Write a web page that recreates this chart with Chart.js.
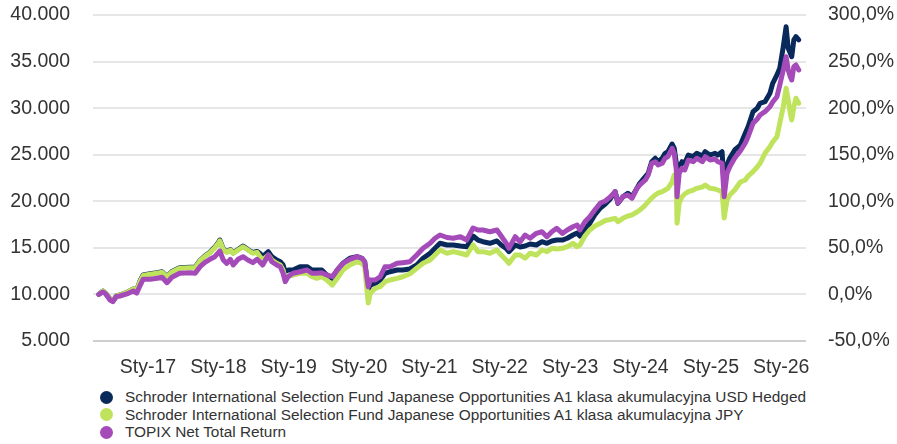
<!DOCTYPE html>
<html>
<head>
<meta charset="utf-8">
<script src="https://cdn.jsdelivr.net/npm/chart.js@4.4.1/dist/chart.umd.min.js"></script>
<style>
  html, body { margin: 0; padding: 0; background: #ffffff; }
  #wrap { position: relative; width: 897px; height: 444px; overflow: hidden; }
  #c { position: absolute; left: 0; top: 0; }
  .leg { position: absolute; left: 0; height: 17.5px; line-height: 17.5px; white-space: nowrap;
         font-family: "Liberation Sans", Arial, sans-serif; font-size: 15.4px; color: #333333; }
  .leg .dot { position: absolute; left: 100px; top: 2.5px; width: 13px; height: 13px; border-radius: 50%; }
  .leg .txt { position: absolute; left: 125px; top: 0; }
</style>
</head>
<body>
<div id="wrap">
  <canvas id="c" width="897" height="382"></canvas>
  <div id="legend"></div>
</div>
<script>
// ---- data (decimal years) ----
const dates = [
2016.30,2016.36,2016.40,2016.46,2016.50,2016.55,2016.60,2016.70,2016.79,2016.84,2016.89,2016.93,
2017.03,2017.13,2017.20,2017.27,2017.34,2017.45,2017.60,2017.67,2017.74,2017.81,2017.88,2017.95,
2018.00,2018.02,2018.07,2018.12,2018.17,2018.21,2018.28,2018.35,2018.42,2018.49,2018.55,2018.59,
2018.63,2018.71,2018.76,2018.83,2018.88,2018.92,2018.95,2018.99,2019.06,2019.16,2019.26,2019.33,
2019.40,2019.47,2019.54,2019.62,2019.69,2019.77,2019.87,2019.97,2020.04,2020.08,2020.13,2020.16,
2020.23,2020.30,2020.37,2020.44,2020.54,2020.62,2020.72,2020.82,2020.91,2021.01,2021.08,2021.15,
2021.25,2021.34,2021.44,2021.53,2021.62,2021.69,2021.76,2021.86,2021.96,2022.02,2022.09,2022.13,
2022.22,2022.29,2022.36,2022.43,2022.52,2022.60,2022.67,2022.74,2022.81,2022.89,2022.96,2023.04,
2023.10,2023.14,2023.21,2023.28,2023.35,2023.43,2023.50,2023.57,2023.64,2023.68,2023.75,2023.82,
2023.88,2023.95,2023.99,2024.07,2024.11,2024.16,2024.21,2024.25,2024.31,2024.35,2024.39,2024.45,
2024.48,2024.51,2024.52,2024.55,2024.59,2024.63,2024.68,2024.75,2024.80,2024.88,2024.92,2024.99,
2025.06,2025.10,2025.16,2025.19,2025.23,2025.27,2025.34,2025.42,2025.49,2025.53,2025.60,2025.66,
2025.70,2025.77,2025.84,2025.88,2025.94,2025.98,2026.03,2026.07,2026.10,2026.13,2026.15,2026.18,
2026.21,2026.25
];

const usdHedged = [
10000,10370,10100,9510,9290,9830,9940,10210,10580,10480,11500,12090,
12210,12320,12430,11930,12460,12860,12920,12920,13670,14150,14530,15090,
15580,15840,14880,14580,14820,14470,14820,15200,14820,14500,14610,14420,
14050,14590,14050,13700,13510,13160,12440,12620,12620,12980,12980,12620,
12620,12620,12090,11730,12620,13340,13880,14050,13880,13510,10480,11010,
11190,11550,12270,12440,12620,12620,12730,13160,13880,14420,14950,15490,
15310,15310,15200,15120,16270,15840,15660,15490,15740,15310,14950,14590,
15310,15090,15200,15410,15310,15660,15490,15740,15840,15840,16030,16380,
16600,16270,16920,17640,18530,19280,19710,20250,21030,19780,20490,20860,
20490,21390,21930,22640,23000,24250,24620,24250,24620,25150,25320,26150,
25690,24080,21570,23540,24250,24080,24970,24790,25150,24860,25320,24970,
25150,24970,25320,21570,23900,24650,25510,26040,27300,28010,29620,29980,
30520,30690,31590,32670,33560,34280,36600,38740,36420,35890,35520,37320,
37670,37320
];

const jpy = [
10000,10370,10100,9510,9290,9830,9940,10210,10580,10480,11440,12030,
12160,12270,12380,11870,12410,12810,12870,12870,13620,14090,14480,15020,
15490,15740,14820,14520,14770,14420,14770,15120,14770,14420,14520,14050,
13700,14230,13700,13340,13160,12620,11730,11900,12090,12270,12270,11900,
11730,11900,11550,11010,11730,12620,13160,13510,13340,12980,9080,10120,
10660,10830,11370,11550,11730,11900,12190,12810,13340,13700,14230,14770,
14420,14590,14420,14230,15310,14590,14590,14420,14770,14230,13700,13340,
14230,14230,13880,14420,14230,14770,14590,14950,14880,14950,15120,15490,
15120,15310,16270,16920,17350,17640,17940,18040,18170,17810,18170,18420,
18530,18850,19060,19600,19960,20350,20680,20890,21030,21210,21390,22100,
22820,21570,17640,19780,20490,20780,21030,21210,21390,21530,21750,21390,
21320,21210,21030,18210,20140,20680,21210,22070,22290,22710,23180,23680,
24080,25150,25860,26370,26930,28370,30150,32130,30870,29450,28730,30150,
31060,30520
];

const topix = [
10000,10260,10050,9400,9220,9780,9830,10050,10370,10150,11010,11620,
11620,11730,11840,11260,11840,12270,12330,12270,12980,13450,13770,14050,
14480,14660,13700,13340,13770,13160,13770,14050,13700,13410,13770,13480,
13160,14230,13510,13160,12980,12270,11370,11900,12270,12440,12620,12270,
12270,12330,12090,11900,12620,13340,13770,14050,13880,13510,10830,11550,
11550,11900,12980,12980,13340,13410,13510,14230,14950,15490,16030,16380,
16110,16030,16200,15840,17130,16920,16920,16730,16920,16270,15520,14950,
16200,15660,16380,16030,16560,16730,16200,16730,17100,16560,16920,17270,
17450,16920,17810,18350,19060,19820,20030,20460,21030,19820,20490,20680,
20320,21390,21750,22290,22820,24080,24250,23900,24080,24620,24790,25690,
25150,23360,20490,23000,23540,23360,24430,24250,24620,24250,24790,24430,
24540,24250,24080,20490,23000,23710,24650,25400,26260,26930,28370,28830,
29260,29620,30150,30660,31230,32480,34100,35520,34100,33380,33020,34450,
34630,34100
];

const seriesNames = [
  "Schroder International Selection Fund Japanese Opportunities A1 klasa akumulacyjna USD Hedged",
  "Schroder International Selection Fund Japanese Opportunities A1 klasa akumulacyjna JPY",
  "TOPIX Net Total Return"
];
const seriesColors = ["#08295a", "#c0e35e", "#a44ab9"];

const xTickYears = [2017, 2018, 2019, 2020, 2021, 2022, 2023, 2024, 2025, 2026];
const xTickLabels = ["Sty-17","Sty-18","Sty-19","Sty-20","Sty-21","Sty-22","Sty-23","Sty-24","Sty-25","Sty-26"];

const leftTicks = [5000, 10000, 15000, 20000, 25000, 30000, 35000, 40000];
const rightTicks = [-50, 0, 50, 100, 150, 200, 250, 300];

// ---- helpers ----
function pts(arr) { return dates.map((d, i) => ({ x: d, y: arr[i] })); }
function fmtThousands(v) { return String(Math.round(v)).replace(/\B(?=(\d{3})+(?!\d))/g, "."); }
function fmtPct(v) { return v.toFixed(1).replace(".", ",") + "%"; }

const tickFont = { family: "'Liberation Sans', Arial, sans-serif", size: 19.5 };
const textColor = "#333333";

function noPad(s) { s.paddingTop = 0; s.paddingBottom = 0; s.paddingLeft = 0; s.paddingRight = 0; }

const ds = [usdHedged, jpy, topix].map((arr, i) => ({
  label: seriesNames[i],
  data: pts(arr),
  borderColor: seriesColors[i],
  backgroundColor: seriesColors[i],
  borderWidth: 5,
  pointRadius: 0,
  tension: 0,
  borderJoinStyle: "round",
  borderCapStyle: "round",
  yAxisID: "y",
  order: 3 - i
}));

new Chart(document.getElementById("c"), {
  type: "line",
  data: { datasets: ds },
  options: {
    responsive: false,
    animation: false,
    layout: { padding: { top: 15, bottom: 0, left: 0, right: 0 } },
    plugins: { legend: { display: false }, tooltip: { enabled: false } },
    scales: {
      x: {
        type: "linear",
        min: 2016.218,
        max: 2026.353,
        grid: { display: false },
        border: { display: false },
        afterBuildTicks: (s) => { s.ticks = xTickYears.map(v => ({ value: v })); },
        afterFit: (s) => { s.height = 41; noPad(s); },
        ticks: {
          autoSkip: false, maxRotation: 0, padding: 7,
          color: textColor, font: tickFont,
          callback: (v) => { const k = xTickYears.indexOf(Math.round(v)); return k >= 0 ? xTickLabels[k] : ""; }
        }
      },
      y: {
        position: "left",
        min: 5000, max: 40000,
        afterBuildTicks: (s) => { s.ticks = leftTicks.map(v => ({ value: v })); },
        afterFit: (s) => { s.width = 93; noPad(s); },
        grid: {
          drawTicks: false,
          color: (c) => (c.tick && c.tick.value === 5000) ? "#cfcfcf" : "#e6e6e6",
          lineWidth: 2
        },
        border: { display: false },
        ticks: { padding: 23, color: textColor, font: tickFont, callback: (v) => fmtThousands(v) }
      },
      y2: {
        position: "right",
        min: -50, max: 300,
        afterBuildTicks: (s) => { s.ticks = rightTicks.map(v => ({ value: v })); },
        afterFit: (s) => { s.width = 91; noPad(s); },
        grid: { display: false, drawTicks: false },
        border: { display: false },
        ticks: { padding: 22, color: textColor, font: tickFont, callback: (v) => fmtPct(v) }
      }
    }
  }
});

// ---- legend (HTML) ----
const legend = document.getElementById("legend");
const rowTop = 388.25, rowPitch = 17.5;
seriesNames.forEach((name, i) => {
  const row = document.createElement("div");
  row.className = "leg";
  row.style.top = (rowTop + i * rowPitch) + "px";
  row.style.width = "897px";
  const dot = document.createElement("span");
  dot.className = "dot";
  dot.style.background = seriesColors[i];
  const txt = document.createElement("span");
  txt.className = "txt";
  txt.textContent = name;
  row.appendChild(dot);
  row.appendChild(txt);
  legend.appendChild(row);
});
</script>
</body>
</html>
